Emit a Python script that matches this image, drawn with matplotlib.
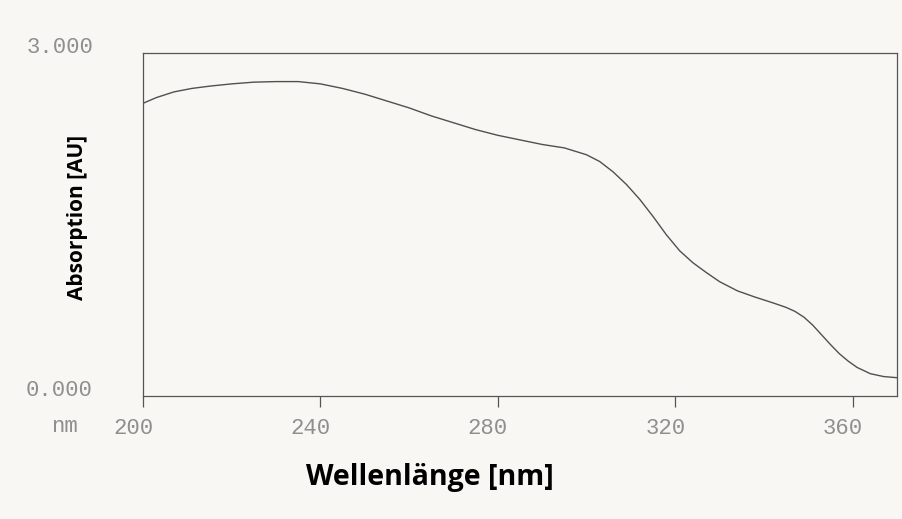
import matplotlib
matplotlib.use("Agg")
import matplotlib.pyplot as plt
from matplotlib.transforms import ScaledTranslation

# Data
wavelength = [200, 203, 207, 211, 215, 220, 225, 230, 235, 240, 245, 250, 255,
              260, 265, 270, 275, 280, 285, 290, 295, 300, 303, 306, 309, 312,
              315, 318, 321, 324, 327, 330, 334, 338, 342, 345, 347, 349, 351,
              353, 355, 357, 359, 361, 364, 367, 370]
absorption = [2.56, 2.61, 2.66, 2.69, 2.71, 2.73, 2.745, 2.75, 2.75, 2.73, 2.69,
              2.64, 2.58, 2.52, 2.45, 2.39, 2.33, 2.28, 2.24, 2.20, 2.17, 2.11,
              2.05, 1.96, 1.85, 1.72, 1.57, 1.41, 1.27, 1.165, 1.08, 1.00, 0.92,
              0.865, 0.815, 0.775, 0.74, 0.69, 0.62, 0.535, 0.45, 0.37, 0.305,
              0.25, 0.195, 0.17, 0.16]
x_ticks = [200, 240, 280, 320, 360]
x_ticklabels = ["200", "240", "280", "320", "360"]
y_ticks = [0, 3]
y_ticklabels = ["0.000", "3.000"]
x_label = "Wellenlänge [nm]"
y_label = "Absorption [AU]"
unit_label = "nm"

bg = "#f8f7f3"
ink = "#555555"
tick_gray = "#8f8f8f"
mono = "Liberation Mono"

fig = plt.figure(figsize=(9.03, 5.19), dpi=100, facecolor=bg)
ax = fig.add_axes([143 / 903, 1 - 396 / 519, (897 - 143) / 903, (396 - 53) / 519])
ax.set_facecolor(bg)

ax.plot(wavelength, absorption, color="#505050", lw=1.0)

ax.set_xlim(200, 370)
ax.set_ylim(0, 3)

for s in ax.spines.values():
    s.set_color(ink)
    s.set_linewidth(0.9)

ax.set_xticks(x_ticks)
ax.set_xticklabels(x_ticklabels, fontfamily=mono, fontsize=16, color=tick_gray)
ax.tick_params(axis="x", direction="out", length=8, width=0.9, color=ink, pad=8)
ax.set_yticks(y_ticks)
ax.set_yticklabels(y_ticklabels, fontfamily=mono, fontsize=16, color=tick_gray)
ax.tick_params(axis="y", length=0, pad=36)

for lab in ax.get_xticklabels():
    lab.set_transform(lab.get_transform() + ScaledTranslation(-10 / 100, 0, fig.dpi_scale_trans))
for lab in ax.get_yticklabels():
    lab.set_transform(lab.get_transform() + ScaledTranslation(0, 8 / 100, fig.dpi_scale_trans))

fig.text(64 / 903, 1 - 427 / 519, unit_label, fontfamily=mono, fontsize=16,
         color=tick_gray, ha="center", va="center")

fig.text(430 / 903, 1 - 485 / 519, x_label, fontfamily="Open Sans", fontweight="bold",
         fontsize=20.5, color="black", ha="center", va="baseline")
fig.text(78 / 903, 1 - 217 / 519, y_label, fontfamily="Open Sans", fontweight="bold",
         fontsize=15, color="black", ha="center", va="center", rotation=90)

fig.savefig("out.png", dpi=100, facecolor=bg)
